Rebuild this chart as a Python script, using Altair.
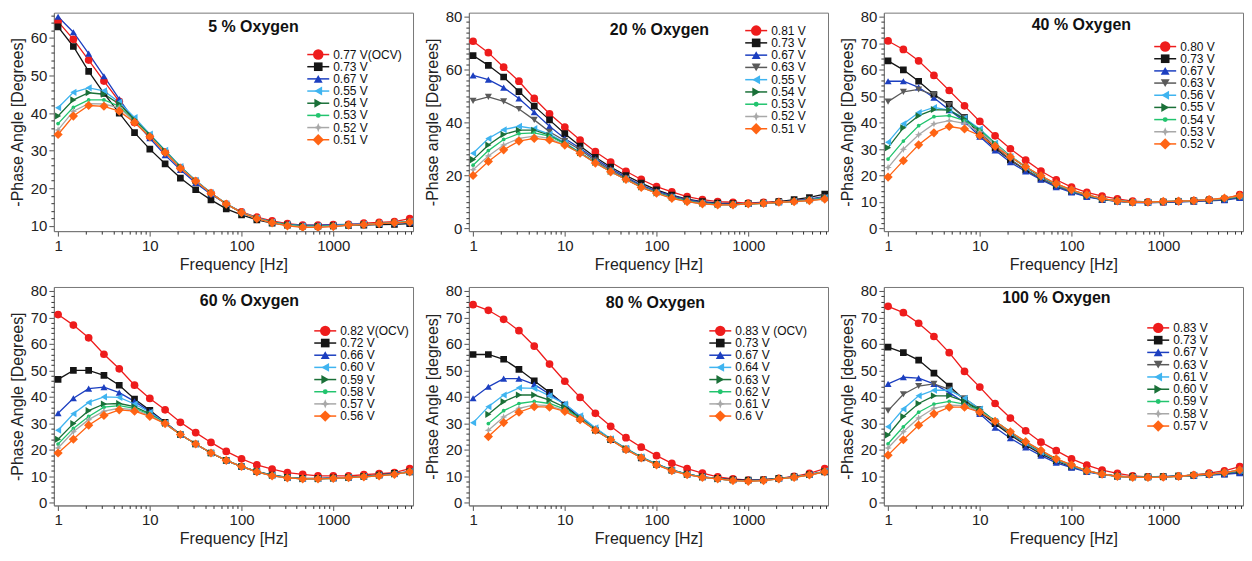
import altair as alt
import pandas as pd

FONT = "Liberation Sans"

FREQ = [1, 1.468, 2.154, 3.162, 4.642, 6.813, 10, 14.68, 21.54, 31.62, 46.42, 68.13,
        100, 146.8, 215.4, 316.2, 464.2, 681.3, 1000, 1468, 2154, 3162, 4642, 6813]
X_DOMAIN = [0.9, 7400]
X_MAJOR = [1, 10, 100, 1000]
X_MINOR = [2, 3, 4, 5, 6, 7, 8, 9, 20, 30, 40, 50, 60, 70, 80, 90,
           200, 300, 400, 500, 600, 700, 800, 900, 2000, 3000, 4000, 5000, 6000, 7000]

# role -> (colour, shape, plot size, legend size)
STAR = "M0,-1L0.28,-0.28L1,0L0.28,0.28L0,1L-0.28,0.28L-1,0L-0.28,-0.28Z"
STYLE = {
    "red": ("#ee1c1c", "circle", 60, 110),
    "black": ("#151515", "square", 45, 75),
    "blue": ("#1c3fc0", "triangle-up", 50, 80),
    "dgray": ("#5a5a5a", "triangle-down", 50, 80),
    "lblue": ("#3fb4f0", "triangle-left", 50, 80),
    "dgreen": ("#1a7038", "triangle-right", 50, 80),
    "green": ("#22c46e", "circle", 14, 24),
    "gray": ("#a8a8a8", STAR, 55, 85),
    "orange": ("#ff6414", "diamond", 85, 130),
}

# ---------------- 5 % Oxygen ----------------
P1_LABELS = ["0.77 V(OCV)", "0.73 V", "0.67 V", "0.55 V", "0.54 V", "0.53 V", "0.52 V", "0.51 V"]
P1_ROLES = ["red", "black", "blue", "lblue", "dgreen", "green", "gray", "orange"]
P1_RED = [64.3, 59.6, 54.1, 48.5, 43.1, 37.5, 33.7, 29.7, 25.5, 21.9, 18.7, 15.8, 13.7, 12.3, 11.3, 10.6, 10.2, 10.2, 10.3, 10.4, 10.7, 10.9, 11.1, 11.9]
P1_BLACK = [62.9, 57.7, 51.1, 45.2, 40.0, 34.8, 30.4, 26.5, 22.7, 19.6, 16.9, 14.5, 12.9, 11.6, 10.7, 10.2, 9.9, 9.9, 10.0, 10.1, 10.2, 10.3, 10.4, 10.6]
P1_BLUE = [65.6, 61.5, 55.8, 49.8, 43.7, 37.9, 33.3, 28.8, 24.9, 21.4, 18.4, 15.8, 13.6, 12.1, 11.0, 10.4, 10.2, 10.2, 10.3, 10.4, 10.5, 10.6, 10.7, 10.9]
P1_LBLUE = [41.4, 45.5, 46.7, 45.9, 42.9, 38.8, 34.4, 30.1, 25.8, 22.1, 18.8, 15.9, 13.6, 12.1, 11.0, 10.4, 10.0, 10.0, 10.1, 10.3, 10.5, 10.6, 10.8, 11.2]
P1_DGREEN = [39.2, 43.5, 45.4, 45.0, 42.4, 38.3, 34.2, 29.9, 25.7, 22.0, 18.7, 15.8, 13.5, 12.0, 10.9, 10.3, 9.9, 9.9, 10.0, 10.2, 10.4, 10.6, 10.8, 11.1]
P1_GREEN = [37.2, 41.5, 43.5, 43.5, 41.8, 37.9, 34.0, 29.7, 25.6, 21.9, 18.7, 15.8, 13.5, 12.0, 10.9, 10.2, 9.8, 9.8, 10.0, 10.2, 10.4, 10.6, 10.8, 11.1]
P1_GRAY = [35.5, 40.5, 42.5, 42.4, 41.4, 37.7, 33.8, 29.6, 25.5, 21.9, 18.7, 15.8, 13.5, 12.0, 10.8, 10.1, 9.7, 9.7, 9.9, 10.2, 10.4, 10.6, 10.8, 11.0]
P1_ORANGE = [34.3, 39.2, 42.0, 41.8, 40.5, 37.5, 33.7, 29.5, 25.3, 21.9, 18.7, 15.8, 13.5, 11.9, 10.8, 10.0, 9.6, 9.6, 9.8, 10.2, 10.3, 10.6, 10.8, 11.0]

# ---------------- 20 % Oxygen ----------------
P2_LABELS = ["0.81 V", "0.73 V", "0.67 V", "0.63 V", "0.55 V", "0.54 V", "0.53 V", "0.52 V", "0.51 V"]
P2_ROLES = ["red", "black", "blue", "dgray", "lblue", "dgreen", "green", "gray", "orange"]
P2_RED = [70.7, 66.4, 60.9, 55.6, 49.1, 43.3, 38.3, 33.4, 29.0, 25.1, 21.6, 18.5, 15.8, 13.8, 12.0, 10.9, 10.1, 9.9, 9.6, 9.9, 10.1, 10.5, 11.1, 11.7]
P2_BLACK = [65.3, 61.6, 57.2, 51.7, 46.2, 41.0, 35.8, 31.1, 26.9, 23.2, 20.0, 17.1, 14.6, 12.6, 11.1, 10.1, 9.6, 9.4, 9.4, 9.6, 10.1, 10.9, 11.7, 13.0]
P2_BLUE = [57.8, 56.2, 53.2, 49.1, 43.9, 38.6, 34.0, 30.3, 26.2, 22.6, 19.4, 16.4, 14.1, 12.4, 10.9, 9.9, 9.4, 9.3, 9.4, 9.6, 9.9, 10.4, 11.1, 12.1]
P2_DGRAY = [48.2, 49.7, 48.0, 45.1, 41.0, 36.5, 33.1, 29.7, 25.6, 22.0, 18.9, 16.0, 13.7, 12.0, 10.6, 9.7, 9.2, 9.1, 9.3, 9.6, 9.9, 10.3, 10.9, 11.8]
P2_LBLUE = [28.4, 34.0, 37.3, 38.6, 37.7, 35.6, 32.4, 28.7, 25.0, 21.6, 18.6, 15.8, 13.5, 11.8, 10.4, 9.5, 9.1, 9.0, 9.3, 9.6, 9.9, 10.3, 10.8, 11.6]
P2_DGREEN = [26.0, 31.5, 35.5, 37.1, 37.1, 35.2, 32.1, 28.6, 24.9, 21.5, 18.6, 15.7, 13.4, 11.7, 10.3, 9.4, 9.0, 9.0, 9.3, 9.5, 9.9, 10.2, 10.7, 11.4]
P2_GREEN = [23.9, 29.4, 33.6, 35.8, 36.1, 34.9, 31.9, 28.5, 24.8, 21.5, 18.5, 15.6, 13.4, 11.6, 10.2, 9.4, 9.0, 8.9, 9.3, 9.5, 9.9, 10.2, 10.6, 11.3]
P2_GRAY = [22.2, 27.4, 31.5, 34.0, 34.9, 34.0, 31.5, 28.4, 24.7, 21.4, 18.5, 15.6, 13.3, 11.5, 10.1, 9.3, 8.9, 8.9, 9.3, 9.5, 9.9, 10.1, 10.5, 11.2]
P2_ORANGE = [20.0, 25.3, 29.7, 33.0, 34.0, 33.4, 31.5, 28.4, 24.7, 21.4, 18.5, 15.5, 13.3, 11.4, 10.1, 9.3, 8.9, 8.9, 9.3, 9.5, 9.9, 10.1, 10.5, 11.1]

# ---------------- 40 % Oxygen ----------------
P3_LABELS = ["0.80 V", "0.73 V", "0.67 V", "0.63 V", "0.56 V", "0.55 V", "0.54 V", "0.53 V", "0.52 V"]
P3_ROLES = ["red", "black", "blue", "dgray", "lblue", "dgreen", "green", "gray", "orange"]
P3_RED = [70.8, 67.6, 63.3, 57.8, 52.1, 46.3, 40.4, 35.0, 30.1, 25.8, 21.7, 18.4, 15.6, 13.6, 12.2, 11.2, 10.3, 10.0, 10.0, 10.2, 10.5, 10.9, 11.2, 12.8]
P3_BLACK = [63.3, 59.9, 55.6, 50.6, 46.9, 42.0, 35.5, 30.3, 25.8, 22.0, 18.7, 16.0, 13.9, 12.2, 10.9, 10.3, 9.9, 9.9, 10.0, 10.2, 10.3, 10.5, 10.9, 11.8]
P3_BLUE = [55.6, 55.6, 53.3, 49.4, 44.7, 40.4, 34.7, 29.5, 25.0, 21.5, 18.4, 15.6, 13.6, 11.9, 10.9, 10.2, 9.8, 9.7, 9.9, 10.0, 10.2, 10.4, 10.7, 11.5]
P3_DGRAY = [47.9, 51.6, 52.5, 50.4, 46.6, 41.9, 36.4, 30.8, 26.0, 22.2, 18.9, 16.1, 14.0, 12.3, 11.0, 10.3, 9.9, 9.9, 10.0, 10.2, 10.4, 10.6, 11.0, 11.9]
P3_LBLUE = [32.6, 39.5, 43.8, 45.7, 44.7, 41.7, 37.6, 32.3, 27.2, 23.0, 19.5, 16.6, 14.3, 12.6, 11.2, 10.4, 10.0, 9.9, 10.1, 10.3, 10.5, 10.8, 11.2, 12.1]
P3_DGREEN = [30.5, 38.0, 42.6, 44.9, 44.7, 41.3, 37.0, 32.0, 27.2, 23.1, 19.6, 16.7, 14.4, 12.6, 11.2, 10.4, 10.0, 9.9, 10.1, 10.3, 10.5, 10.8, 11.2, 12.1]
P3_GREEN = [26.2, 33.0, 38.8, 42.2, 42.6, 40.7, 37.2, 32.2, 27.4, 23.3, 19.8, 16.8, 14.5, 12.7, 11.3, 10.4, 10.0, 9.9, 10.1, 10.3, 10.5, 10.8, 11.3, 12.2]
P3_GRAY = [23.0, 29.9, 35.4, 39.5, 40.7, 39.7, 36.4, 31.8, 27.2, 23.3, 19.8, 16.8, 14.5, 12.7, 11.3, 10.4, 9.9, 9.9, 10.1, 10.3, 10.5, 10.9, 11.4, 12.3]
P3_ORANGE = [19.4, 25.6, 31.6, 36.1, 38.5, 37.6, 35.1, 31.0, 27.0, 23.3, 19.9, 16.9, 14.6, 12.8, 11.3, 10.4, 9.9, 9.9, 10.2, 10.3, 10.5, 10.9, 11.5, 12.4]

# ---------------- 60 % Oxygen ----------------
P4_LABELS = ["0.82 V(OCV)", "0.72 V", "0.66 V", "0.60 V", "0.59 V", "0.58 V", "0.57 V", "0.56 V"]
P4_ROLES = ["red", "black", "blue", "lblue", "dgreen", "green", "gray", "orange"]
P4_RED = [71.1, 67.1, 62.3, 56.1, 50.6, 44.4, 39.4, 35.1, 30.4, 26.5, 22.8, 19.4, 16.6, 14.3, 12.7, 11.4, 10.7, 10.2, 10.2, 10.2, 10.6, 11.0, 11.4, 12.9]
P4_BLACK = [46.6, 50.0, 50.0, 48.1, 44.4, 39.2, 34.9, 30.4, 25.8, 22.2, 18.8, 16.0, 13.7, 11.8, 10.5, 9.6, 9.2, 9.2, 9.4, 9.6, 10.0, 10.5, 11.1, 11.7]
P4_BLUE = [33.8, 39.5, 43.1, 43.7, 41.6, 38.3, 34.5, 30.3, 25.8, 22.2, 18.8, 16.0, 13.7, 11.8, 10.4, 9.5, 9.1, 9.1, 9.3, 9.6, 10.0, 10.4, 11.0, 11.8]
P4_LBLUE = [27.4, 33.6, 37.9, 40.0, 39.8, 37.3, 34.2, 30.1, 25.8, 22.2, 18.8, 16.0, 13.7, 11.8, 10.4, 9.5, 9.1, 9.1, 9.3, 9.6, 9.9, 10.3, 10.9, 11.8]
P4_DGREEN = [24.0, 29.9, 34.8, 37.3, 37.5, 36.3, 33.6, 30.0, 25.8, 22.2, 18.8, 16.0, 13.7, 11.8, 10.3, 9.5, 9.0, 9.0, 9.2, 9.5, 9.9, 10.3, 10.8, 11.7]
P4_GREEN = [22.2, 28.1, 32.6, 36.1, 36.7, 35.7, 33.4, 29.9, 25.8, 22.2, 18.8, 16.0, 13.7, 11.7, 10.3, 9.4, 9.0, 9.0, 9.2, 9.5, 9.8, 10.2, 10.7, 11.7]
P4_GRAY = [20.7, 26.8, 31.4, 34.6, 35.7, 35.1, 33.0, 29.9, 25.8, 22.2, 18.8, 16.0, 13.7, 11.7, 10.2, 9.4, 9.0, 9.0, 9.2, 9.5, 9.8, 10.2, 10.7, 11.7]
P4_ORANGE = [18.8, 24.0, 29.3, 33.0, 35.1, 34.6, 32.6, 29.9, 25.8, 22.2, 18.8, 16.0, 13.7, 11.7, 10.2, 9.4, 9.0, 9.0, 9.2, 9.5, 9.8, 10.2, 10.7, 11.7]

# ---------------- 80 % Oxygen ----------------
P5_LABELS = ["0.83 V (OCV)", "0.73 V", "0.67 V", "0.64 V", "0.63 V", "0.62 V", "0.61 V", "0.6 V"]
P5_ROLES = ["red", "black", "blue", "lblue", "dgreen", "green", "gray", "orange"]
P5_RED = [74.8, 72.7, 69.3, 65.0, 59.2, 52.4, 45.9, 39.8, 33.8, 28.9, 24.6, 21.0, 17.8, 14.9, 12.9, 11.2, 9.8, 9.0, 8.6, 8.7, 9.2, 10.0, 11.1, 12.9]
P5_BLACK = [56.0, 56.0, 54.2, 50.4, 46.1, 41.7, 36.9, 31.8, 27.4, 23.8, 20.3, 17.0, 14.5, 12.3, 10.8, 9.8, 9.2, 8.7, 8.6, 8.7, 9.2, 9.8, 10.6, 11.7]
P5_BLUE = [39.5, 43.8, 46.9, 46.9, 44.7, 41.0, 37.3, 32.6, 28.1, 24.0, 20.5, 17.2, 14.6, 12.4, 10.8, 9.8, 9.1, 8.6, 8.5, 8.6, 9.1, 9.8, 10.6, 11.8]
P5_LBLUE = [30.2, 36.3, 40.7, 43.4, 43.2, 40.4, 37.3, 32.9, 28.3, 24.2, 20.6, 17.4, 14.7, 12.4, 10.8, 9.8, 9.0, 8.5, 8.4, 8.6, 9.1, 9.8, 10.6, 12.0]
P5_DGREEN = [None, 33.4, 38.2, 40.7, 40.7, 38.8, 36.1, 32.0, 27.7, 23.9, 20.4, 17.2, 14.5, 12.3, 10.7, 9.7, 9.0, 8.5, 8.3, 8.5, 9.1, 9.7, 10.6, 11.8]
P5_GREEN = [None, 29.9, 34.8, 37.5, 38.3, 37.5, 35.4, 31.7, 27.6, 23.9, 20.3, 17.1, 14.4, 12.2, 10.7, 9.7, 9.0, 8.5, 8.2, 8.5, 9.0, 9.7, 10.5, 11.8]
P5_GRAY = [None, 27.4, 32.4, 35.7, 37.0, 36.7, 34.8, 31.5, 27.5, 23.8, 20.2, 17.0, 14.4, 12.2, 10.6, 9.6, 9.0, 8.4, 8.1, 8.4, 9.0, 9.6, 10.5, 11.7]
P5_ORANGE = [None, 25.0, 30.3, 34.2, 36.3, 36.1, 34.5, 31.4, 27.4, 23.8, 20.1, 17.0, 14.3, 12.1, 10.6, 9.6, 9.0, 8.4, 8.1, 8.4, 9.0, 9.6, 10.5, 11.7]

# ---------------- 100 % Oxygen ----------------
P6_LABELS = ["0.83 V", "0.73 V", "\u00a00.67 V", "0.63 V", "0.61 V", "0.60 V", "0.59 V", "0.58 V", "0.57 V"]
P6_ROLES = ["red", "black", "blue", "dgray", "lblue", "dgreen", "green", "gray", "orange"]
P6_RED = [74.2, 71.8, 67.8, 62.8, 56.7, 49.6, 43.7, 37.5, 32.0, 27.2, 22.9, 19.7, 16.6, 14.2, 12.3, 11.1, 10.2, 9.8, 9.8, 10.1, 10.5, 11.2, 12.1, 13.7]
P6_BLACK = [58.8, 56.7, 53.9, 49.0, 44.1, 38.8, 34.2, 29.9, 25.6, 21.8, 18.5, 15.7, 13.6, 11.9, 10.8, 10.1, 9.8, 9.8, 9.9, 10.1, 10.3, 10.6, 10.9, 11.5]
P6_BLUE = [44.9, 47.4, 47.1, 44.9, 41.6, 37.9, 33.6, 28.4, 24.4, 20.9, 17.8, 15.1, 13.3, 11.7, 10.6, 10.0, 9.8, 9.8, 10.0, 10.1, 10.2, 10.5, 10.7, 11.2]
P6_DGRAY = [34.8, 41.0, 44.1, 44.9, 42.8, 39.5, 35.4, 30.5, 26.0, 22.2, 18.8, 16.0, 13.8, 12.0, 10.8, 10.1, 9.7, 9.7, 9.8, 10.1, 10.4, 10.7, 11.1, 11.8]
P6_LBLUE = [28.7, 35.4, 40.4, 42.5, 42.5, 39.5, 35.4, 30.8, 26.4, 22.5, 19.1, 16.2, 13.9, 12.0, 10.8, 10.0, 9.7, 9.7, 9.8, 10.1, 10.4, 10.8, 11.3, 12.1]
P6_DGREEN = [25.6, 32.6, 37.5, 40.4, 40.4, 38.3, 35.2, 30.9, 26.6, 22.8, 19.4, 16.4, 14.1, 12.1, 10.8, 10.0, 9.7, 9.7, 9.8, 10.1, 10.4, 10.8, 11.3, 12.2]
P6_GREEN = [22.3, 28.7, 34.2, 37.3, 38.3, 37.3, 34.8, 30.9, 26.7, 23.0, 19.6, 16.5, 14.2, 12.1, 10.8, 10.0, 9.6, 9.6, 9.7, 10.0, 10.5, 10.8, 11.4, 12.3]
P6_GRAY = [20.7, 26.8, 32.0, 35.7, 36.9, 36.7, 34.5, 30.8, 26.8, 23.1, 19.7, 16.6, 14.3, 12.1, 10.8, 10.0, 9.6, 9.6, 9.7, 10.0, 10.5, 10.8, 11.4, 12.3]
P6_ORANGE = [18.0, 23.8, 29.3, 33.6, 36.1, 36.1, 34.2, 30.8, 26.8, 23.1, 19.8, 16.6, 14.3, 12.1, 10.8, 10.0, 9.6, 9.6, 9.7, 10.0, 10.5, 10.8, 11.4, 12.4]

W, H = 360, 219


def panel(title, ytitle, labels, roles, series, ydomain, ymajor, yminor,
          title_xy, leg_x, leg_y0, leg_dy):
    rows = []
    for k, (lab, vals) in enumerate(zip(labels, series)):
        for f, v in zip(FREQ, vals):
            if v is not None:
                rows.append({"f": f, "v": v, "series": lab, "rank": k})
    df = pd.DataFrame(rows)
    n = len(labels)
    ranks = list(range(n))
    colors = [STYLE[r][0] for r in roles]
    shapes = [STYLE[r][1] for r in roles]
    sizes = [STYLE[r][2] for r in roles]
    lsizes = [STYLE[r][3] for r in roles]
    cscale = alt.Scale(domain=labels, range=colors)
    sscale = alt.Scale(domain=labels, range=shapes)
    xs = alt.Scale(type="log", domain=X_DOMAIN, nice=False)
    ys = alt.Scale(domain=ydomain, nice=False, zero=False)
    base = alt.Chart(df)
    lines = base.mark_line(strokeWidth=1.3, clip=True).encode(
        x=alt.X("f:Q", scale=xs, axis=alt.Axis(values=X_MAJOR, format="d", title="Frequency [Hz]",
                                                 orient="bottom", labelPadding=2, titlePadding=3)),
        y=alt.Y("v:Q", scale=ys, axis=alt.Axis(values=ymajor, title=ytitle, orient="left",
                                                 labelPadding=2, titlePadding=5)),
        color=alt.Color("series:N", scale=cscale, legend=None),
    )
    pts = base.mark_point(filled=True, opacity=1, clip=True).encode(
        x=alt.X("f:Q", scale=xs, axis=alt.Axis(values=X_MINOR, labels=False, tickSize=3,
                                                 tickColor="#333", domain=False, title=None,
                                                 orient="bottom")),
        y=alt.Y("v:Q", scale=ys, axis=alt.Axis(values=yminor, labels=False, tickSize=3,
                                                 tickColor="#333", domain=False, title=None,
                                                 orient="left")),
        color=alt.Color("series:N", scale=cscale, legend=None),
        shape=alt.Shape("series:N", scale=sscale, legend=None),
        size=alt.Size("rank:Q", scale=alt.Scale(domain=ranks, range=sizes, zero=False), legend=None),
    )
    data_layer = alt.layer(lines, pts).resolve_axis(x="independent", y="independent")

    ldf = pd.DataFrame({"series": labels, "rank": ranks})
    lb = alt.Chart(ldf)
    rs = alt.Scale(domain=[0, n - 1], range=[leg_y0, leg_y0 + (n - 1) * leg_dy])
    ly = alt.Y("rank:Q", scale=rs, axis=None)
    rule = lb.mark_rule(strokeWidth=1.5).encode(
        x=alt.value(leg_x - 11), x2=alt.value(leg_x + 11), y=ly,
        color=alt.Color("series:N", scale=cscale, legend=None))
    lpt = lb.mark_point(filled=True, opacity=1).encode(
        x=alt.value(leg_x), y=ly,
        color=alt.Color("series:N", scale=cscale, legend=None),
        shape=alt.Shape("series:N", scale=sscale, legend=None),
        size=alt.Size("rank:Q", scale=alt.Scale(domain=ranks, range=lsizes, zero=False), legend=None))
    ltxt = lb.mark_text(align="left", baseline="middle", fontSize=12, font=FONT, color="#111").encode(
        x=alt.value(leg_x + 15), y=ly, text="series:N")
    leg_layer = alt.layer(rule, lpt, ltxt)

    tdf = pd.DataFrame({"t": [title]})
    ttl = alt.Chart(tdf).mark_text(fontSize=16, fontWeight="bold", font=FONT, color="#111",
                                   align="center", baseline="middle").encode(
        x=alt.value(title_xy[0]), y=alt.value(title_xy[1]), text="t:N")

    return alt.layer(data_layer, leg_layer, ttl).resolve_scale(
        y="independent", size="independent").properties(width=W, height=H)


Y80 = [-1.0, 81.5]
MINOR80 = [v for v in range(0, 81, 2) if v % 10]
p1 = panel("5 % Oxygen", "-Phase Angle [Degrees]", P1_LABELS, P1_ROLES,
           [P1_RED, P1_BLACK, P1_BLUE, P1_LBLUE, P1_DGREEN, P1_GREEN, P1_GRAY, P1_ORANGE],
           [8.6, 66.7], [10, 20, 30, 40, 50, 60], [v for v in range(10, 67, 2) if v % 10],
           (200, 14), 265, 42, 12.2)
p2 = panel("20 % Oxygen", "-Phase angle [Degrees]", P2_LABELS, P2_ROLES,
           [P2_RED, P2_BLACK, P2_BLUE, P2_DGRAY, P2_LBLUE, P2_DGREEN, P2_GREEN, P2_GRAY, P2_ORANGE],
           Y80, [0, 20, 40, 60, 80], [v for v in range(0, 81, 2) if v % 20],
           (191, 17), 288, 18, 12.3)
p3 = panel("40 % Oxygen", "-Phase Angle [Degrees]", P3_LABELS, P3_ROLES,
           [P3_RED, P3_BLACK, P3_BLUE, P3_DGRAY, P3_LBLUE, P3_DGREEN, P3_GREEN, P3_GRAY, P3_ORANGE],
           Y80, [0, 10, 20, 30, 40, 50, 60, 70, 80], MINOR80,
           (198, 12), 282, 34, 12.2)
p4 = panel("60 % Oxygen", "-Phase Angle [Degrees]", P4_LABELS, P4_ROLES,
           [P4_RED, P4_BLACK, P4_BLUE, P4_LBLUE, P4_DGREEN, P4_GREEN, P4_GRAY, P4_ORANGE],
           Y80, [0, 10, 20, 30, 40, 50, 60, 70, 80], MINOR80,
           (196, 14), 272, 44, 12.2)
p5 = panel("80 % Oxygen", "-Phase Angle [degrees]", P5_LABELS, P5_ROLES,
           [P5_RED, P5_BLACK, P5_BLUE, P5_LBLUE, P5_DGREEN, P5_GREEN, P5_GRAY, P5_ORANGE],
           Y80, [0, 10, 20, 30, 40, 50, 60, 70, 80], MINOR80,
           (187, 16), 252, 44, 12.2)
p6 = panel("100 % Oxygen", "-Phase Angle [degrees]", P6_LABELS, P6_ROLES,
           [P6_RED, P6_BLACK, P6_BLUE, P6_DGRAY, P6_LBLUE, P6_DGREEN, P6_GREEN, P6_GRAY, P6_ORANGE],
           Y80, [0, 10, 20, 30, 40, 50, 60, 70, 80], MINOR80,
           (173, 11), 275, 41, 12.3)

IND = dict(color="independent", shape="independent", size="independent",
           x="independent", y="independent")
chart = alt.concat(p1, p2, p3, p4, p5, p6, columns=3,
                   spacing={"row": 56, "column": 56}, bounds="flush").resolve_scale(**IND).properties(
    padding={"left": 0, "top": 0, "right": 0, "bottom": 0}
).configure_view(stroke="#777", strokeWidth=1).configure_axis(
    labelFont=FONT, titleFont=FONT, labelFontSize=15, titleFontSize=16,
    titleFontWeight="normal", labelColor="#222", titleColor="#222",
    tickColor="#555", domainColor="#777", grid=False, labelFlush=False, tickSize=5
)

chart.save("out.html", embed_options={"renderer": "svg", "actions": False})
